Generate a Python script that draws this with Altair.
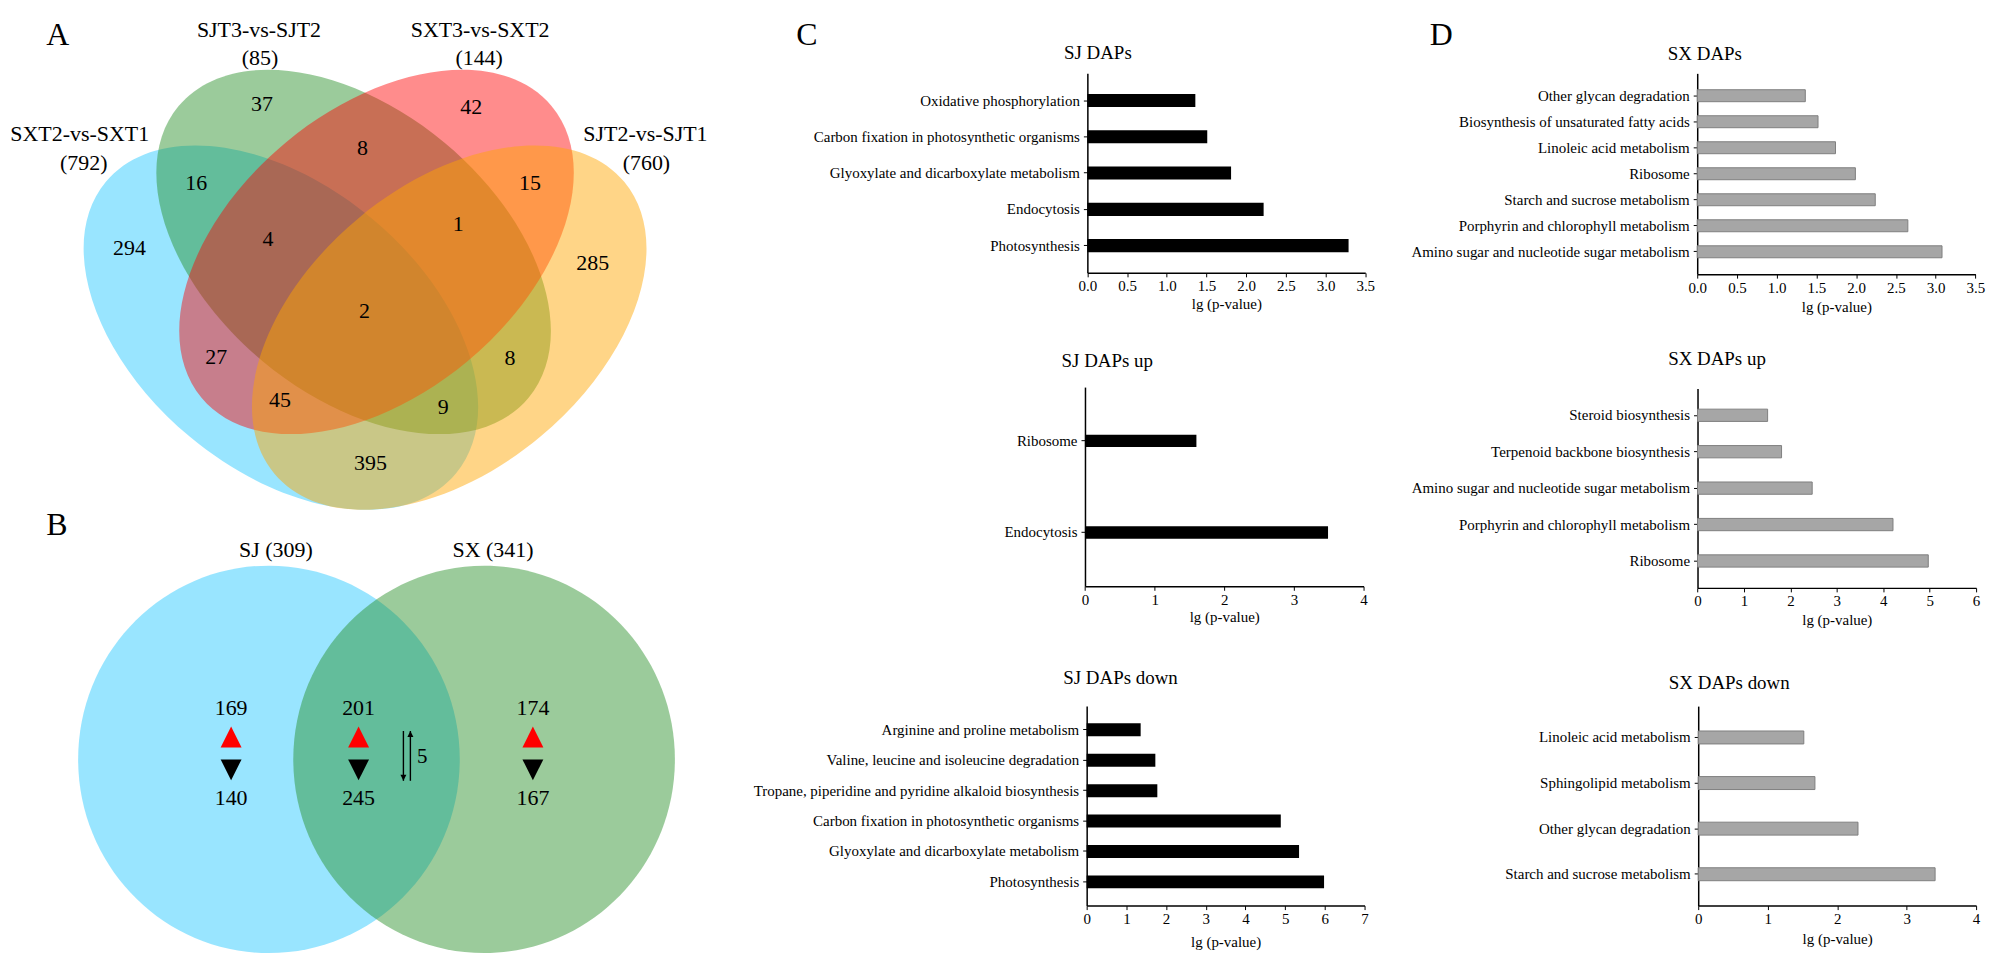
import altair as alt
import pandas as pd

FONT = "Liberation Serif"
PAGE_W, PAGE_H, M = 2008, 958, 8
W, H = PAGE_W - M, PAGE_H - M

# ---------------- data ----------------
# Panel A: four-set Venn
a_sets = ["SXT2-vs-SXT1", "SJT3-vs-SJT2", "SXT3-vs-SXT2", "SJT2-vs-SJT1"]
a_totals = [792, 85, 144, 760]
a_counts = [37, 42, 16, 8, 15, 294, 4, 1, 285, 2, 27, 8, 45, 9, 395]

# Panel B: two-set Venn with up / down counts
b_sets = ["SJ", "SX"]
b_totals = [309, 341]
b_up = [169, 201, 174]
b_down = [140, 245, 167]
b_both = 5

# Panels C / D: KEGG enrichment bars
c_titles = ["SJ DAPs", "SJ DAPs up", "SJ DAPs down"]
c_terms = [
    ["Oxidative phosphorylation", "Carbon fixation in photosynthetic organisms",
     "Glyoxylate and dicarboxylate metabolism", "Endocytosis", "Photosynthesis"],
    ["Ribosome", "Endocytosis"],
    ["Arginine and proline metabolism", "Valine, leucine and isoleucine degradation",
     "Tropane, piperidine and pyridine alkaloid biosynthesis",
     "Carbon fixation in photosynthetic organisms",
     "Glyoxylate and dicarboxylate metabolism", "Photosynthesis"],
]
c_values = [
    [1.36, 1.51, 1.81, 2.22, 3.29],
    [1.60, 3.49],
    [1.36, 1.73, 1.78, 4.89, 5.35, 5.98],
]
d_titles = ["SX DAPs", "SX DAPs up", "SX DAPs down"]
d_terms = [
    ["Other glycan degradation", "Biosynthesis of unsaturated fatty acids",
     "Linoleic acid metabolism", "Ribosome", "Starch and sucrose metabolism",
     "Porphyrin and chlorophyll metabolism", "Amino sugar and nucleotide sugar metabolism"],
    ["Steroid biosynthesis", "Terpenoid backbone biosynthesis",
     "Amino sugar and nucleotide sugar metabolism",
     "Porphyrin and chlorophyll metabolism", "Ribosome"],
    ["Linoleic acid metabolism", "Sphingolipid metabolism",
     "Other glycan degradation", "Starch and sucrose metabolism"],
]
d_values = [
    [1.36, 1.52, 1.74, 1.99, 2.24, 2.65, 3.08],
    [1.51, 1.81, 2.47, 4.21, 4.97],
    [1.52, 1.68, 2.30, 3.41],
]
x_title = "lg (p-value)"
panel_letters = ["A", "B", "C", "D"]

# ---------------- layout (page pixels) ----------------
A_ELL_XY = [(282, 327), (355, 251), (378, 251), (451, 327)]
A_ELL_ANGLE = [39.8, 39.8, 320.2, 320.2]
A_ELL_SEMI = 228.7
A_ELL_RATIO = 0.624
A_COLORS = ["rgba(0,191,255,0.40)", "rgba(34,139,34,0.45)",
            "rgba(255,0,0,0.45)", "rgba(255,165,0,0.47)"]
A_NAME_XY = [(80, 133), (260, 28), (482, 28), (648, 133)]
A_TOTAL_XY = [(84, 162), (261, 56), (481, 56), (649, 162)]
A_REGION_XY = [(263, 103), (473, 106), (197, 182), (364, 147), (532, 182),
               (130, 247), (269, 238), (460, 223), (595, 262), (366, 310),
               (217, 357), (512, 358), (281, 400), (445, 407), (372, 463)]

B_CIRC_XY = [(270, 760.5), (486, 760.5)]
B_CIRC_SEMI = 194.5
B_CIRC_RATIO = 0.985
B_COLORS = ["rgba(0,191,255,0.40)", "rgba(34,139,34,0.45)"]
B_NAME_XY = [(277, 550), (495, 550)]
B_COL_X = [232, 360, 535]
B_UPNUM_Y, B_UPTRI_Y, B_DNTRI_Y, B_DNNUM_Y = 709, 738, 771, 799
B_ARROW = dict(x_down=405, x_up=412, y_top=732, y_bot=782, label_xy=(424, 758))

LETTER_XY = [(58, 33), (57, 525), (810, 33), (1447, 33)]

C_LAYOUT = [
    dict(ax=1091.7, top=71.7, bottom=272, right=1370.7, xmax=3.5, step=0.5, pi=0.64, po=0.57, ty=51, tdx=-24, tpad=3),
    dict(ax=1089.3, top=386.7, bottom=586.7, right=1369, xmax=4, step=1, pi=0.866, po=0.52, ty=360, tdx=-24, tpad=2),
    dict(ax=1091, top=707, bottom=907.3, right=1370, xmax=7, step=1, pi=0.574, po=0.567, ty=678, tdx=-24, tpad=8),
]
D_LAYOUT = [
    dict(ax=1704, top=71.7, bottom=273.3, right=1983.3, xmax=3.5, step=0.5, pi=0.54, po=0.63, ty=52, tdx=-30, tpad=5),
    dict(ax=1704.3, top=388, bottom=588.3, right=1984, xmax=6, step=1, pi=0.663, po=0.57, ty=358, tdx=-30, tpad=4),
    dict(ax=1705, top=707, bottom=907.3, right=1984, xmax=4, step=1, pi=0.716, po=0.546, ty=683, tdx=-30, tpad=5),
]

# ---------------- helpers ----------------
xs = alt.Scale(domain=[M, PAGE_W], range=[0, W], nice=False, zero=False)
ys = alt.Scale(domain=[M, PAGE_H], range=[0, H], nice=False, zero=False)


def px(f):
    return alt.X(f"{f}:Q", scale=xs, axis=None)


def py(f):
    return alt.Y(f"{f}:Q", scale=ys, axis=None)


def ellipse_path(k):
    c = 0.5523
    return (f"M 1 0 C 1 {c*k:.4f} {c} {k} 0 {k} C {-c} {k} -1 {c*k:.4f} -1 0 "
            f"C -1 {-c*k:.4f} {-c} {-k} 0 {-k} C {c} {-k} 1 {-c*k:.4f} 1 0 Z")


def texts(labels, xy, size):
    df = pd.DataFrame({"label": [str(v) for v in labels],
                       "x": [p[0] for p in xy], "y": [p[1] for p in xy]})
    return alt.Chart(df).mark_text(font=FONT, fontSize=size, color="black",
                                   align="center", baseline="middle").encode(
        x=px("x"), y=py("y"), text="label:N")


def ellipses(names, xy, angles, semi, ratio, colors):
    df = pd.DataFrame({"set": names, "x": [p[0] for p in xy],
                       "y": [p[1] for p in xy], "angle": angles})
    return alt.Chart(df).mark_point(shape=ellipse_path(ratio), filled=True, opacity=1,
                                    strokeWidth=0, size=(2 * semi) ** 2).encode(
        x=px("x"), y=py("y"),
        angle=alt.Angle("angle:Q", scale=None),
        color=alt.Color("set:N", scale=alt.Scale(domain=names, range=colors), legend=None))


def tri(xs_, y, up, color, size):
    path = "M 0 -1 L 1 1 L -1 1 Z" if up else "M 0 1 L 1 -1 L -1 -1 Z"
    df = pd.DataFrame({"x": xs_, "y": [y] * len(xs_)})
    return alt.Chart(df).mark_point(shape=path, filled=True, opacity=1, color=color,
                                    strokeWidth=0, size=size).encode(x=px("x"), y=py("y"))


def bar_chart(title, terms, values, lay, fill, stroke):
    df = pd.DataFrame({"term": terms, "value": values})
    ax = lay["ax"] - M
    top, bottom, right = lay["top"] - M, lay["bottom"] - M, lay["right"] - M
    n = int(round(lay["xmax"] / lay["step"]))
    ticks = [round(i * lay["step"], 2) for i in range(n + 1)]
    fmt = ".1f" if lay["step"] < 1 else "d"
    mark = alt.Chart(df).mark_bar(fill=fill, stroke=stroke, strokeWidth=1 if stroke else 0)
    return mark.encode(
        y=alt.Y("term:N", sort=terms,
                scale=alt.Scale(range=[top, bottom], paddingInner=lay["pi"], paddingOuter=lay["po"]),
                axis=alt.Axis(orient="left", offset=-ax, title=title, titleAngle=0,
                              titleAlign="left", titleBaseline="middle",
                              titleX=lay["tdx"], titleY=lay["ty"] - M,
                              titleFontSize=19, labelLimit=600, labelPadding=4,
                              tickSize=4)),
        x=alt.X("value:Q",
                scale=alt.Scale(domain=[0, lay["xmax"]], range=[ax, right], nice=False, zero=True),
                axis=alt.Axis(orient="bottom", offset=bottom - H, values=ticks, format=fmt,
                              title=x_title, titlePadding=lay["tpad"], labelFlush=False,
                              labelOverlap=False, labelPadding=2, tickSize=4)),
    )


# ---------------- layers ----------------
layers = []
# Panel A
layers.append(ellipses(a_sets, A_ELL_XY, A_ELL_ANGLE, A_ELL_SEMI, A_ELL_RATIO, A_COLORS))
layers.append(texts(a_sets, A_NAME_XY, 22))
layers.append(texts([f"({t})" for t in a_totals], A_TOTAL_XY, 22))
layers.append(texts(a_counts, A_REGION_XY, 22))

# Panel B
layers.append(ellipses(b_sets, B_CIRC_XY, [90, 90], B_CIRC_SEMI, B_CIRC_RATIO, B_COLORS))
layers.append(texts([f"{s} ({t})" for s, t in zip(b_sets, b_totals)], B_NAME_XY, 22))
layers.append(texts(b_up, [(x, B_UPNUM_Y) for x in B_COL_X], 22))
layers.append(texts(b_down, [(x, B_DNNUM_Y) for x in B_COL_X], 22))
layers.append(tri(B_COL_X, B_UPTRI_Y, True, "#ff0000", 441))
layers.append(tri(B_COL_X, B_DNTRI_Y, False, "#000000", 441))

arrow_df = pd.DataFrame({"x": [B_ARROW["x_down"], B_ARROW["x_up"]],
                         "y": [B_ARROW["y_top"], B_ARROW["y_top"]],
                         "y2": [B_ARROW["y_bot"], B_ARROW["y_bot"]]})
layers.append(alt.Chart(arrow_df).mark_rule(color="black", strokeWidth=1.4).encode(
    x=px("x"), y=py("y"), y2="y2:Q"))
head_df = pd.DataFrame({"x": [B_ARROW["x_down"]], "y": [B_ARROW["y_bot"] - 3]})
layers.append(alt.Chart(head_df).mark_point(shape="M 0 1 L 1 -1 L -1 -1 Z", filled=True, opacity=1,
                                            color="black", strokeWidth=0, size=36).encode(
    x=px("x"), y=py("y")))
head_df2 = pd.DataFrame({"x": [B_ARROW["x_up"]], "y": [B_ARROW["y_top"] + 3]})
layers.append(alt.Chart(head_df2).mark_point(shape="M 0 -1 L 1 1 L -1 1 Z", filled=True, opacity=1,
                                             color="black", strokeWidth=0, size=36).encode(
    x=px("x"), y=py("y")))
layers.append(texts([b_both], [B_ARROW["label_xy"]], 21))

# Panel letters
layers.append(texts(panel_letters, LETTER_XY, 32))

# Panels C and D
for t, terms, vals, lay in zip(c_titles, c_terms, c_values, C_LAYOUT):
    layers.append(bar_chart(t, terms, vals, lay, "#000000", None))
for t, terms, vals, lay in zip(d_titles, d_terms, d_values, D_LAYOUT):
    layers.append(bar_chart(t, terms, vals, lay, "#a6a6a6", "#7f7f7f"))

chart = alt.layer(*layers).resolve_scale(
    x="independent", y="independent", color="independent"
).properties(
    width=W, height=H, padding=0,
    autosize=alt.AutoSizeParams(type="none"),
    background="white",
).configure_view(stroke=None).configure_axis(
    labelFont=FONT, titleFont=FONT, labelFontSize=15, titleFontSize=15,
    titleFontWeight="normal", labelColor="black", titleColor="black",
    domainColor="black", domainWidth=1.5, tickColor="black", tickWidth=1,
    grid=False,
)

chart.save("out.html", embed_options={"renderer": "svg", "actions": False})
